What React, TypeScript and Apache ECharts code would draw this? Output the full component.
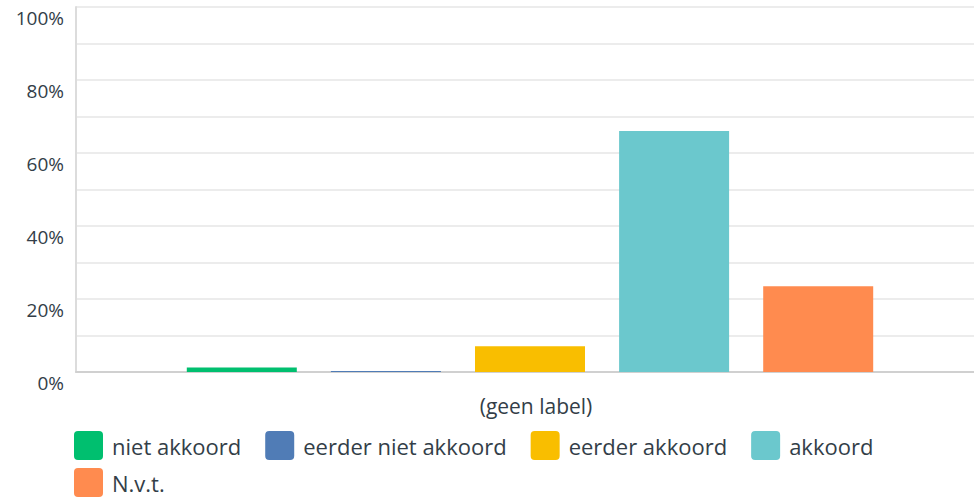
import React, { useEffect, useRef } from "react";
import * as echarts from "echarts";

const categories = ["(geen label)"];
const seriesNames = ["niet akkoord", "eerder niet akkoord", "eerder akkoord", "akkoord", "N.v.t."];
const seriesValues = [[1.2], [0.3], [7.05], [66.0], [23.5]];
const colors = ["#00bf6f", "#507cb6", "#f9be00", "#6bc8cd", "#ff8b4f"];

const FONT = "Open Sans";
const TEXT = "#333e48";

export default function App() {
  const ref = useRef<HTMLDivElement>(null);
  useEffect(() => {
    const chart = echarts.init(ref.current!, null, { renderer: "svg" });
    const legendBase = {
      orient: "horizontal",
      left: 74,
      padding: 0,
      itemWidth: 29,
      itemHeight: 29,
      itemGap: 24,
      icon: "path://M4,0 H25 A4,4 0 0 1 29,4 V25 A4,4 0 0 1 25,29 H4 A4,4 0 0 1 0,25 V4 A4,4 0 0 1 4,0 Z",
      textStyle: { fontFamily: FONT, fontSize: 22, color: TEXT, padding: [0, 0, 0, 4] },
    };
    chart.setOption({
      animation: false,
      color: colors,
      grid: { left: 76, top: 7, bottom: 127, width: 908, outerBoundsMode: "none", containLabel: false },
      legend: [
        { ...legendBase, top: 431, data: seriesNames.slice(0, 4) },
        { ...legendBase, top: 468, data: seriesNames.slice(4) },
      ],
      xAxis: {
        type: "category",
        data: categories,
        axisLine: { lineStyle: { color: "#d0d0d0", width: 2 } },
        axisTick: { show: false },
        axisLabel: { fontFamily: FONT, fontSize: 21, color: TEXT, margin: 23, padding: [0, 0, 0, 12] },
      },
      yAxis: {
        type: "value",
        min: 0,
        max: 100,
        interval: 10,
        axisLine: { show: true, lineStyle: { color: "#dcdcdc", width: 2 } },
        axisTick: { show: false },
        splitLine: { lineStyle: { color: "#ececec", width: 2 } },
        axisLabel: {
          fontFamily: FONT,
          fontSize: 19,
          color: TEXT,
          margin: 12,
          verticalAlign: "top",
          padding: [1, 0, 0, 0],
          formatter: (v: number) => (v % 20 === 0 ? v + "%" : ""),
        },
      },
      series: seriesNames.map((name, i) => ({
        name,
        type: "bar",
        data: seriesValues[i],
        barWidth: 110,
        barGap: "31%",
        itemStyle: { color: colors[i] },
      })),
    });
    return () => chart.dispose();
  }, []);
  return <div ref={ref} style={{ width: 974, height: 499, position: "absolute", left: 0, top: 0 }} />;
}
